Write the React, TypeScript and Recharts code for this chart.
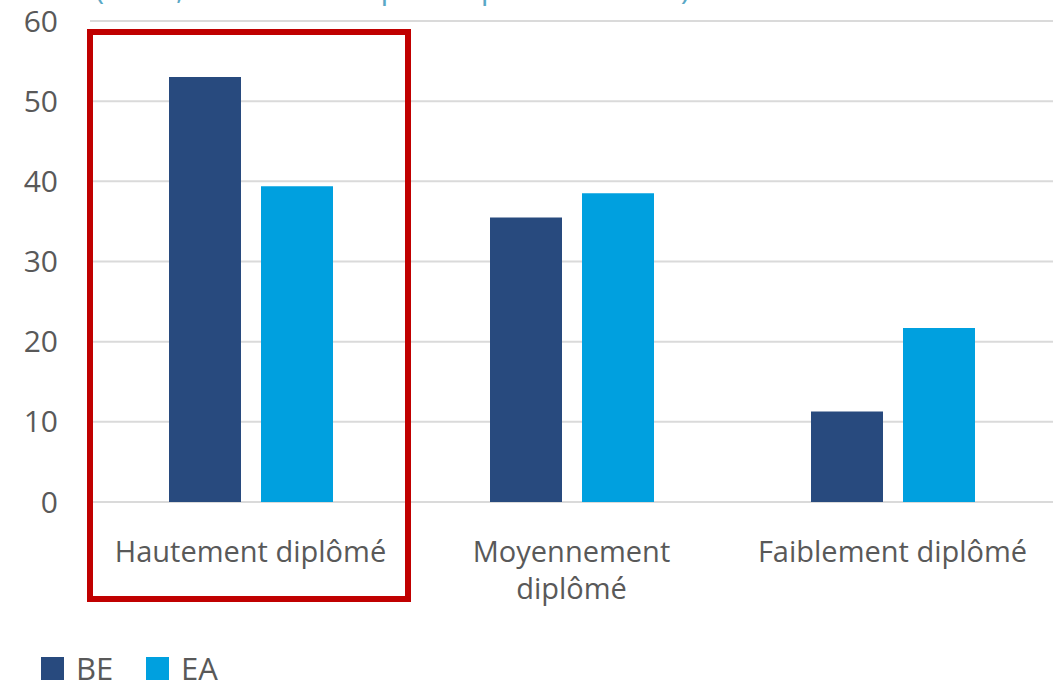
import { BarChart, Bar, XAxis, YAxis, CartesianGrid, Legend } from "recharts";

const categories = ["Hautement diplômé", "Moyennement diplômé", "Faiblement diplômé"];
const categoryLines = [["Hautement diplômé"], ["Moyennement", "diplômé"], ["Faiblement diplômé"]];
const beValues = [53.0, 35.5, 11.3];
const eaValues = [39.4, 38.5, 21.7];
const yTicks = [0, 10, 20, 30, 40, 50, 60];
const subtitle = "(en %, en % de l'emploi dépendant total)";

const BE_COLOR = "#284a7e";
const EA_COLOR = "#00a0df";
const FONT = "'Open Sans', 'Noto Sans', sans-serif";

const data = categories.map((name, i) => ({ name, BE: beValues[i], EA: eaValues[i] }));

const CategoryTick = (props: any) => {
  const { x, y, payload, index } = props;
  const lines = categoryLines[index] ?? [payload.value];
  return (
    <text x={x} y={y + 52} textAnchor="middle" fill="#595959" style={{ fontSize: 29, fontFamily: FONT }}>
      {lines.map((l: string, i: number) => (
        <tspan key={i} x={x} dy={i === 0 ? 0 : 37}>
          {l}
        </tspan>
      ))}
    </text>
  );
};

const LegendBox = () => (
  <div style={{ display: "flex", alignItems: "center", height: 30, fontFamily: FONT, fontSize: 31, color: "#595959" }}>
    {[
      { label: "BE", color: BE_COLOR, w: 105 },
      { label: "EA", color: EA_COLOR, w: 80 },
    ].map((it) => (
      <div key={it.label} style={{ display: "flex", alignItems: "center", width: it.w }}>
        <span style={{ width: 23, height: 23, background: it.color, marginRight: 12, display: "inline-block" }} />
        <span style={{ lineHeight: "30px" }}>{it.label}</span>
      </div>
    ))}
  </div>
);

export default function App() {
  return (
    <div style={{ position: "absolute", left: 0, top: 0, width: 1063, height: 683, background: "#fff", overflow: "hidden" }}>
      <svg width={1063} height={40} style={{ position: "absolute", left: 0, top: 0 }}>
        <text x={95} y={-1} fill="#5aa8c6" textLength={595} style={{ fontSize: 31, fontFamily: FONT }}>
          {subtitle}
        </text>
      </svg>
      <BarChart
        width={1063}
        height={683}
        data={data}
        margin={{ top: 21, right: 10, left: 0, bottom: 51 }}
        barSize={72}
        barGap={20}
      >
        <CartesianGrid vertical={false} stroke="#dadada" strokeWidth={2} />
        <XAxis
          dataKey="name"
          axisLine={false}
          tickLine={false}
          height={100}
          interval={0}
          tick={(p: any) => <CategoryTick {...p} />}
        />
        <YAxis
          domain={[0, 60]}
          ticks={yTicks}
          axisLine={false}
          tickLine={false}
          tickSize={0}
          tickMargin={32}
          width={90}
          tick={{ fill: "#595959", fontSize: 30, fontFamily: FONT }}
        />
        <Legend
          verticalAlign="bottom"
          align="left"
          content={<LegendBox />}
          wrapperStyle={{ left: 41, bottom: 0, width: 400, height: 30 }}
        />
        <Bar dataKey="BE" fill={BE_COLOR} isAnimationActive={false} />
        <Bar dataKey="EA" fill={EA_COLOR} isAnimationActive={false} />
      </BarChart>
      <div
        style={{
          position: "absolute",
          left: 87,
          top: 29,
          width: 324,
          height: 573,
          border: "6px solid #c00000",
          boxSizing: "border-box",
          pointerEvents: "none",
        }}
      />
    </div>
  );
}
